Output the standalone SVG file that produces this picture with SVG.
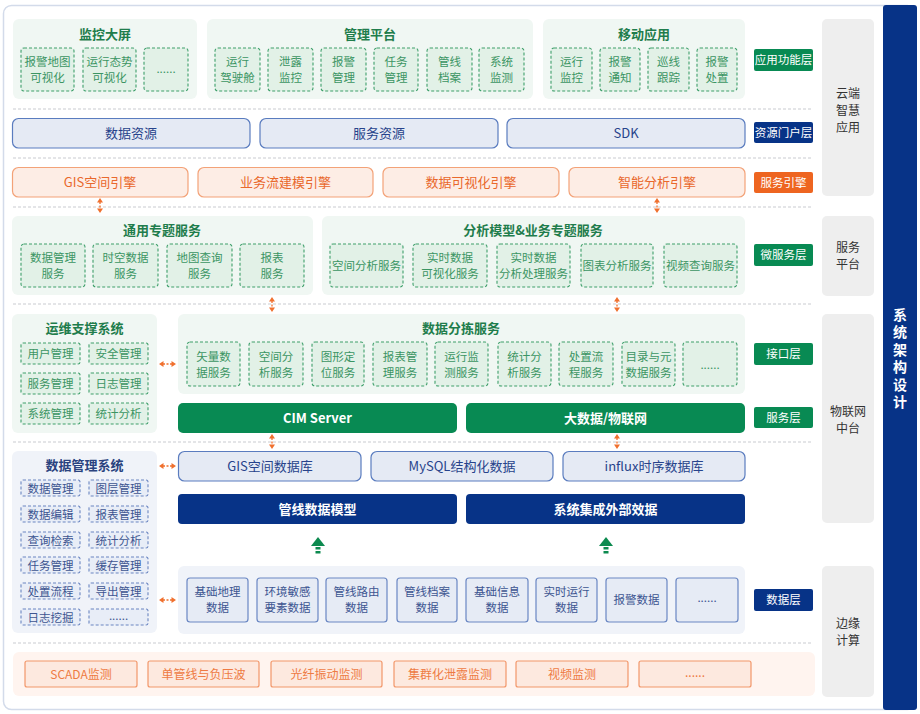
<svg xmlns="http://www.w3.org/2000/svg" width="920" height="714" viewBox="0 0 920 714">
<defs>
<style>
text{font-family:"Noto Sans CJK SC","Noto Sans",sans-serif;text-anchor:middle}
.gp{fill:#f0f7f3}
.gb{fill:#e2f1e7;stroke:#3f9f6b;stroke-width:1.1;stroke-dasharray:3 2}
.gt{fill:#3b9563;font-size:11.5px}
.gti{fill:#1f7d4c;font-size:13px;font-weight:bold}
.gs{fill:#088a53}
.wt{fill:#fff;font-size:13px;font-weight:bold}
.badge{fill:#fff;font-size:11.5px}
.lb{fill:#e5eaf4;stroke:#5a7cbf;stroke-width:1.2}
.lbt{fill:#27438b;font-size:13px}
.db{fill:#073387}
.ob{fill:#fdede5;stroke:#f3a278;stroke-width:1.2}
.obt{fill:#e9682c;font-size:13px}
.bp{fill:#f0f3f9}
.bb{fill:#e8edf7;stroke:#6b86c1;stroke-width:1.1;stroke-dasharray:3 2}
.bt{fill:#3d5591;font-size:11.5px}
.dbx{fill:#e6ebf5;stroke:#6a87c3;stroke-width:1.2}
.sep{stroke:#c9cbd0;stroke-width:1;stroke-dasharray:3 2;fill:none}
.side{fill:#eeeeee}
.st{fill:#333;font-size:12px}
.eb{fill:#fde9df;stroke:#f2976a;stroke-width:1.2}
.et{fill:#ee7b43;font-size:12px}
.oa{stroke:#f0702e;stroke-width:1.3;stroke-dasharray:2 1.5;fill:none}
.oh{fill:#f0702e}
.ga{fill:#0c8a4f}
</style>
</defs>
<rect x="3.5" y="5.5" width="912" height="704" rx="8" fill="#fff" stroke="#d3dbea" stroke-width="1.5"/>
<rect id="bar" x="883" y="5" width="34" height="705" rx="3" fill="#073387"/>
<g id="bar-text">
<text x="900" y="360" style="fill:#fff;font-size:14px;font-weight:bold;writing-mode:vertical-rl;letter-spacing:3.5px">系统架构设计</text>
</g>

<!-- side panels -->
<g id="side-cloud"><rect class="side" x="822" y="19" width="52" height="177" rx="5"/><text class="st" x="848" y="97.5">云端</text><text class="st" x="848" y="114.5">智慧</text><text class="st" x="848" y="131.5">应用</text></g>
<g id="side-service"><rect class="side" x="822" y="216" width="52" height="80" rx="5"/><text class="st" x="848" y="252">服务</text><text class="st" x="848" y="269">平台</text></g>
<g id="side-iot"><rect class="side" x="822" y="314" width="52" height="209" rx="5"/><text class="st" x="848" y="416">物联网</text><text class="st" x="848" y="433">中台</text></g>
<g id="side-edge"><rect class="side" x="822" y="566" width="52" height="131" rx="5"/><text class="st" x="848" y="628">边缘</text><text class="st" x="848" y="645">计算</text></g>

<!-- badges -->
<g id="badges">
<rect x="754" y="49" width="59" height="22" rx="2" fill="#088a53"/><text class="badge" x="783.5" y="64">应用功能层</text>
<rect x="754" y="122" width="59" height="21" rx="2" fill="#073387"/><text class="badge" x="783.5" y="136.5">资源门户层</text>
<rect x="754" y="172" width="59" height="21" rx="2" fill="#ee6520"/><text class="badge" x="783.5" y="186.5">服务引擎</text>
<rect x="754" y="244" width="59" height="22" rx="2" fill="#088a53"/><text class="badge" x="783.5" y="259">微服务层</text>
<rect x="754" y="343" width="59" height="22" rx="2" fill="#088a53"/><text class="badge" x="783.5" y="358">接口层</text>
<rect x="754" y="407" width="59" height="21" rx="2" fill="#088a53"/><text class="badge" x="783.5" y="421.5">服务层</text>
<rect x="754" y="589" width="59" height="22" rx="2" fill="#073387"/><text class="badge" x="783.5" y="604">数据层</text>
</g>

<!-- separators -->
<g id="separators">
<line class="sep" x1="13" y1="109" x2="813" y2="109"/>
<line class="sep" x1="13" y1="158" x2="813" y2="158"/>
<line class="sep" x1="13" y1="207" x2="813" y2="207"/>
<line class="sep" x1="13" y1="304" x2="813" y2="304"/>
<line class="sep" x1="13" y1="442" x2="813" y2="442"/>
<line class="sep" x1="13" y1="643" x2="813" y2="643"/>
</g>

<!-- App layer -->
<g id="monitor">
<rect class="gp" x="13" y="19" width="184" height="80" rx="6"/>
<text class="gti" x="105" y="39">监控大屏</text>
<rect class="gb" x="21" y="48" width="53" height="43" rx="3"/><text class="gt" x="47.5" y="66">报警地图</text><text class="gt" x="47.5" y="82">可视化</text>
<rect class="gb" x="83" y="48" width="53" height="43" rx="3"/><text class="gt" x="109.5" y="66">运行态势</text><text class="gt" x="109.5" y="82">可视化</text>
<rect class="gb" x="144" y="48" width="44" height="43" rx="3"/><text class="gt" x="166" y="73">......</text>
</g>
<g id="mgmt">
<rect class="gp" x="207" y="19" width="326" height="80" rx="6"/>
<text class="gti" x="370" y="39">管理平台</text>
<rect class="gb" x="215" y="48" width="45" height="43" rx="3"/><text class="gt" x="237.5" y="66">运行</text><text class="gt" x="237.5" y="82">驾驶舱</text>
<rect class="gb" x="268" y="48" width="45" height="43" rx="3"/><text class="gt" x="290.5" y="66">泄露</text><text class="gt" x="290.5" y="82">监控</text>
<rect class="gb" x="321" y="48" width="45" height="43" rx="3"/><text class="gt" x="343.5" y="66">报警</text><text class="gt" x="343.5" y="82">管理</text>
<rect class="gb" x="374" y="48" width="44" height="43" rx="3"/><text class="gt" x="396" y="66">任务</text><text class="gt" x="396" y="82">管理</text>
<rect class="gb" x="427" y="48" width="45" height="43" rx="3"/><text class="gt" x="449.5" y="66">管线</text><text class="gt" x="449.5" y="82">档案</text>
<rect class="gb" x="479" y="48" width="45" height="43" rx="3"/><text class="gt" x="501.5" y="66">系统</text><text class="gt" x="501.5" y="82">监测</text>
</g>
<g id="mobile">
<rect class="gp" x="543" y="19" width="202" height="80" rx="6"/>
<text class="gti" x="644" y="39">移动应用</text>
<rect class="gb" x="551" y="48" width="41" height="43" rx="3"/><text class="gt" x="571.5" y="66">运行</text><text class="gt" x="571.5" y="82">监控</text>
<rect class="gb" x="600" y="48" width="40" height="43" rx="3"/><text class="gt" x="620" y="66">报警</text><text class="gt" x="620" y="82">通知</text>
<rect class="gb" x="648" y="48" width="41" height="43" rx="3"/><text class="gt" x="668.5" y="66">巡线</text><text class="gt" x="668.5" y="82">跟踪</text>
<rect class="gb" x="697" y="48" width="40" height="43" rx="3"/><text class="gt" x="717" y="66">报警</text><text class="gt" x="717" y="82">处置</text>
</g>

<!-- resources -->
<g id="res-data"><rect class="lb" x="12.5" y="118.5" width="237.5" height="29.5" rx="6"/><text class="lbt" x="131" y="137.5">数据资源</text></g>
<g id="res-service"><rect class="lb" x="260" y="118.5" width="238" height="29.5" rx="6"/><text class="lbt" x="379" y="137.5">服务资源</text></g>
<g id="res-sdk"><rect class="lb" x="507" y="118.5" width="238" height="29.5" rx="6"/><text class="lbt" x="626" y="137.5">SDK</text></g>

<!-- engines -->
<g id="eng-gis"><rect class="ob" x="12.5" y="167.5" width="175.5" height="29.5" rx="6"/><text class="obt" x="100" y="186.5">GIS空间引擎</text></g>
<g id="eng-flow"><rect class="ob" x="198" y="167.5" width="175" height="29.5" rx="6"/><text class="obt" x="285.5" y="186.5">业务流建模引擎</text></g>
<g id="eng-vis"><rect class="ob" x="383" y="167.5" width="176" height="29.5" rx="6"/><text class="obt" x="471" y="186.5">数据可视化引擎</text></g>
<g id="eng-ai"><rect class="ob" x="569" y="167.5" width="176" height="29.5" rx="6"/><text class="obt" x="657" y="186.5">智能分析引擎</text></g>

<!-- micro services -->
<g id="common-svc">
<rect class="gp" x="12" y="216" width="301" height="79" rx="6"/>
<text class="gti" x="162" y="235">通用专题服务</text>
<rect class="gb" x="21" y="244" width="64" height="43" rx="3"/><text class="gt" x="53" y="262">数据管理</text><text class="gt" x="53" y="278">服务</text>
<rect class="gb" x="93" y="244" width="65" height="43" rx="3"/><text class="gt" x="125.5" y="262">时空数据</text><text class="gt" x="125.5" y="278">服务</text>
<rect class="gb" x="167" y="244" width="65" height="43" rx="3"/><text class="gt" x="199.5" y="262">地图查询</text><text class="gt" x="199.5" y="278">服务</text>
<rect class="gb" x="240" y="244" width="64" height="43" rx="3"/><text class="gt" x="272" y="262">报表</text><text class="gt" x="272" y="278">服务</text>
</g>
<g id="analysis-svc">
<rect class="gp" x="322" y="216" width="423" height="79" rx="6"/>
<text class="gti" x="533" y="235">分析模型&amp;业务专题服务</text>
<rect class="gb" x="330" y="244" width="73" height="43" rx="3"/><text class="gt" x="366.5" y="269.5">空间分析服务</text>
<rect class="gb" x="413" y="244" width="74" height="43" rx="3"/><text class="gt" x="450" y="262">实时数据</text><text class="gt" x="450" y="278">可视化服务</text>
<rect class="gb" x="497" y="244" width="73" height="43" rx="3"/><text class="gt" x="533.5" y="262">实时数据</text><text class="gt" x="533.5" y="278">分析处理服务</text>
<rect class="gb" x="581" y="244" width="72" height="43" rx="3"/><text class="gt" x="617" y="269.5">图表分析服务</text>
<rect class="gb" x="664" y="244" width="73" height="43" rx="3"/><text class="gt" x="700.5" y="269.5">视频查询服务</text>
</g>

<!-- ops -->
<g id="ops">
<rect class="gp" x="12" y="314" width="145" height="119" rx="6"/>
<text class="gti" x="84.5" y="333">运维支撑系统</text>
<rect class="gb" x="21" y="343" width="59" height="21" rx="2"/><text class="gt" x="50.5" y="358">用户管理</text>
<rect class="gb" x="89" y="343" width="59" height="21" rx="2"/><text class="gt" x="118.5" y="358">安全管理</text>
<rect class="gb" x="21" y="373" width="59" height="21" rx="2"/><text class="gt" x="50.5" y="388">服务管理</text>
<rect class="gb" x="89" y="373" width="59" height="21" rx="2"/><text class="gt" x="118.5" y="388">日志管理</text>
<rect class="gb" x="21" y="403" width="59" height="21" rx="2"/><text class="gt" x="50.5" y="418">系统管理</text>
<rect class="gb" x="89" y="403" width="59" height="21" rx="2"/><text class="gt" x="118.5" y="418">统计分析</text>
</g>

<!-- sorting services -->
<g id="sorting">
<rect class="gp" x="178" y="314" width="567" height="80" rx="6"/>
<text class="gti" x="461" y="333">数据分拣服务</text>
<rect class="gb" x="187" y="342" width="53" height="44" rx="3"/><text class="gt" x="213.5" y="361">矢量数</text><text class="gt" x="213.5" y="377">据服务</text>
<rect class="gb" x="249" y="342" width="54" height="44" rx="3"/><text class="gt" x="276" y="361">空间分</text><text class="gt" x="276" y="377">析服务</text>
<rect class="gb" x="312" y="342" width="52" height="44" rx="3"/><text class="gt" x="338" y="361">图形定</text><text class="gt" x="338" y="377">位服务</text>
<rect class="gb" x="373" y="342" width="54" height="44" rx="3"/><text class="gt" x="400" y="361">报表管</text><text class="gt" x="400" y="377">理服务</text>
<rect class="gb" x="435" y="342" width="53" height="44" rx="3"/><text class="gt" x="461.5" y="361">运行监</text><text class="gt" x="461.5" y="377">测服务</text>
<rect class="gb" x="498" y="342" width="53" height="44" rx="3"/><text class="gt" x="524.5" y="361">统计分</text><text class="gt" x="524.5" y="377">析服务</text>
<rect class="gb" x="559" y="342" width="54" height="44" rx="3"/><text class="gt" x="586" y="361">处置流</text><text class="gt" x="586" y="377">程服务</text>
<rect class="gb" x="622" y="342" width="53" height="44" rx="3"/><text class="gt" x="648.5" y="361">目录与元</text><text class="gt" x="648.5" y="377">数据服务</text>
<rect class="gb" x="683" y="342" width="54" height="44" rx="3"/><text class="gt" x="710" y="369">......</text>
</g>

<g id="cim"><rect class="gs" x="178" y="403" width="279" height="30" rx="5"/><text class="wt" x="317.5" y="422.5">CIM Server</text></g>
<g id="bigdata"><rect class="gs" x="466" y="403" width="279" height="30" rx="5"/><text class="wt" x="605.5" y="422.5">大数据/物联网</text></g>

<!-- data management -->
<g id="datamgmt">
<rect class="bp" x="12" y="451" width="145" height="182" rx="6"/>
<text x="84.5" y="470" style="fill:#2a437f;font-size:13px;font-weight:bold">数据管理系统</text>
<rect class="bb" x="21" y="480" width="59" height="16" rx="2"/><text class="bt" x="50.5" y="492.5">数据管理</text>
<rect class="bb" x="89" y="480" width="59" height="16" rx="2"/><text class="bt" x="118.5" y="492.5">图层管理</text>
<rect class="bb" x="21" y="506" width="59" height="16" rx="2"/><text class="bt" x="50.5" y="518.5">数据编辑</text>
<rect class="bb" x="89" y="506" width="59" height="16" rx="2"/><text class="bt" x="118.5" y="518.5">报表管理</text>
<rect class="bb" x="21" y="532" width="59" height="16" rx="2"/><text class="bt" x="50.5" y="544.5">查询检索</text>
<rect class="bb" x="89" y="532" width="59" height="16" rx="2"/><text class="bt" x="118.5" y="544.5">统计分析</text>
<rect class="bb" x="21" y="557" width="59" height="16" rx="2"/><text class="bt" x="50.5" y="569.5">任务管理</text>
<rect class="bb" x="89" y="557" width="59" height="16" rx="2"/><text class="bt" x="118.5" y="569.5">缓存管理</text>
<rect class="bb" x="21" y="583" width="59" height="16" rx="2"/><text class="bt" x="50.5" y="595.5">处置流程</text>
<rect class="bb" x="89" y="583" width="59" height="16" rx="2"/><text class="bt" x="118.5" y="595.5">导出管理</text>
<rect class="bb" x="21" y="609" width="59" height="16" rx="2"/><text class="bt" x="50.5" y="621.5">日志挖掘</text>
<rect class="bb" x="89" y="609" width="59" height="16" rx="2"/><text class="bt" x="118.5" y="619.5">......</text>
</g>

<!-- databases -->
<g id="db-gis"><rect class="lb" x="178.5" y="451.5" width="182.5" height="29.5" rx="6"/><text class="lbt" x="270" y="470.5">GIS空间数据库</text></g>
<g id="db-mysql"><rect class="lb" x="371" y="451.5" width="182" height="29.5" rx="6"/><text class="lbt" x="462" y="470.5">MySQL结构化数据</text></g>
<g id="db-influx"><rect class="lb" x="563" y="451.5" width="182" height="29.5" rx="6"/><text class="lbt" x="654" y="470.5">influx时序数据库</text></g>

<g id="model-pipe"><rect class="db" x="178" y="494" width="279" height="30" rx="4"/><text class="wt" x="317.5" y="513.5">管线数据模型</text></g>
<g id="model-ext"><rect class="db" x="466" y="494" width="279" height="30" rx="4"/><text class="wt" x="605.5" y="513.5">系统集成外部效据</text></g>

<!-- data layer -->
<g id="datalayer">
<rect class="bp" x="178" y="566" width="567" height="68" rx="6"/>
<rect class="dbx" x="187" y="578" width="61" height="44" rx="3"/><text class="bt" x="217.5" y="596">基础地理</text><text class="bt" x="217.5" y="612">数据</text>
<rect class="dbx" x="257" y="578" width="61" height="44" rx="3"/><text class="bt" x="287.5" y="596">环境敏感</text><text class="bt" x="287.5" y="612">要素数据</text>
<rect class="dbx" x="326" y="578" width="61" height="44" rx="3"/><text class="bt" x="356.5" y="596">管线路由</text><text class="bt" x="356.5" y="612">数据</text>
<rect class="dbx" x="397" y="578" width="60" height="44" rx="3"/><text class="bt" x="427" y="596">管线档案</text><text class="bt" x="427" y="612">数据</text>
<rect class="dbx" x="466" y="578" width="62" height="44" rx="3"/><text class="bt" x="497" y="596">基础信息</text><text class="bt" x="497" y="612">数据</text>
<rect class="dbx" x="536" y="578" width="61" height="44" rx="3"/><text class="bt" x="566.5" y="596">实时运行</text><text class="bt" x="566.5" y="612">数据</text>
<rect class="dbx" x="606" y="578" width="61" height="44" rx="3"/><text class="bt" x="636.5" y="604">报警数据</text>
<rect class="dbx" x="676" y="578" width="62" height="44" rx="3"/><text class="bt" x="707" y="602">......</text>
</g>

<!-- edge -->
<g id="edge">
<rect x="13" y="652" width="802" height="44" rx="6" fill="#fff4ef"/>
<rect class="eb" x="25" y="661" width="112" height="26" rx="2"/><text class="et" x="81" y="678.5">SCADA监测</text>
<rect class="eb" x="148" y="661" width="111" height="26" rx="2"/><text class="et" x="203.5" y="678.5">单管线与负压波</text>
<rect class="eb" x="271" y="661" width="111" height="26" rx="2"/><text class="et" x="326.5" y="678.5">光纤振动监测</text>
<rect class="eb" x="394" y="661" width="112" height="26" rx="2"/><text class="et" x="450" y="678.5">集群化泄露监测</text>
<rect class="eb" x="516" y="661" width="112" height="26" rx="2"/><text class="et" x="572" y="678.5">视频监测</text>
<rect class="eb" x="639" y="661" width="112" height="26" rx="2"/><text class="et" x="695" y="677">......</text>
</g>

<!-- connectors -->
<g id="connectors">
<line class="oa" x1="100" y1="202" x2="100" y2="209"/><path class="oh" d="M97,202.5 L100,198 L103,202.5 Z M97,208.5 L100,213 L103,208.5 Z"/>
<line class="oa" x1="657" y1="202" x2="657" y2="209"/><path class="oh" d="M654,202.5 L657,198 L660,202.5 Z M654,208.5 L657,213 L660,208.5 Z"/>
<line class="oa" x1="272" y1="301" x2="272" y2="308"/><path class="oh" d="M269,301.5 L272,297 L275,301.5 Z M269,307.5 L272,312 L275,307.5 Z"/>
<line class="oa" x1="617" y1="301" x2="617" y2="308"/><path class="oh" d="M614,301.5 L617,297 L620,301.5 Z M614,307.5 L617,312 L620,307.5 Z"/>
<line class="oa" x1="272" y1="438" x2="272" y2="445"/><path class="oh" d="M269,438.5 L272,434 L275,438.5 Z M269,444.5 L272,449 L275,444.5 Z"/>
<line class="oa" x1="617" y1="438" x2="617" y2="445"/><path class="oh" d="M614,438.5 L617,434 L620,438.5 Z M614,444.5 L617,449 L620,444.5 Z"/>
<line class="oa" x1="163" y1="364" x2="172" y2="364"/><path class="oh" d="M163.5,361 L159,364 L163.5,367 Z M171.5,361 L176,364 L171.5,367 Z"/>
<line class="oa" x1="163" y1="466" x2="172" y2="466"/><path class="oh" d="M163.5,463 L159,466 L163.5,469 Z M171.5,463 L176,466 L171.5,469 Z"/>
<line class="oa" x1="163" y1="600" x2="172" y2="600"/><path class="oh" d="M163.5,597 L159,600 L163.5,603 Z M171.5,597 L176,600 L171.5,603 Z"/>
<path class="ga" d="M318,537 L325,546 L311,546 Z"/><rect class="ga" x="315.5" y="547" width="5" height="2.5"/><rect class="ga" x="315.5" y="551" width="5" height="2.5"/>
<path class="ga" d="M606,537 L613,546 L599,546 Z"/><rect class="ga" x="603.5" y="547" width="5" height="2.5"/><rect class="ga" x="603.5" y="551" width="5" height="2.5"/>
</g>
</svg>
